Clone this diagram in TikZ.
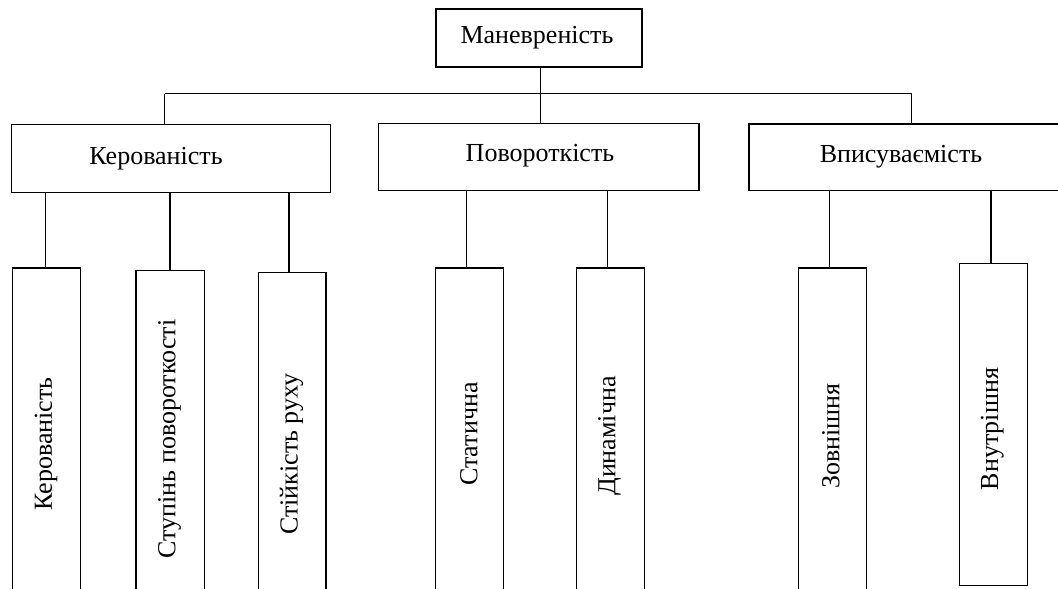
\documentclass[tikz,border=0pt]{standalone}
\usepackage{fontspec}
\setmainfont{Liberation Serif}
\begin{document}
\begin{tikzpicture}[x=0.75pt,y=-0.75pt,
  box/.style={draw, line width=0.9pt, inner sep=0pt, fill=none},
  htext/.style={inner sep=0pt, font=\fontsize{19.5}{23}\selectfont},
  vtext/.style={rotate=90, inner sep=0pt, font=\fontsize{19.5}{23}\selectfont},
  link/.style={line width=1pt}]
\clip (0,0) rectangle (1058,589);
% main boxes
\node[box, minimum width=206*0.75pt, minimum height=58*0.75pt] (top) at (539,38) {};
\node[box, minimum width=319*0.75pt, minimum height=68.4*0.75pt] (ker) at (171,158.5) {};
\node[box, minimum width=320.7*0.75pt, minimum height=67.4*0.75pt] (pov) at (538.7,157) {};
\node[box, minimum width=326*0.75pt, minimum height=66.7*0.75pt] (vps) at (912,157.35) {};
\node[htext] (topt) at (537,38) {Маневреність};
\node[htext] (kert) at (156,158.5) {Керованість};
\node[htext] (povt) at (540,155.5) {Повороткість};
\node[htext] (vpst) at (901,157) {Вписуваємість};
% child boxes
\node[box, minimum width=68.2*0.75pt, minimum height=352*0.75pt] (k1) at (46.5,444) {};
\node[box, minimum width=68.2*0.75pt, minimum height=349.3*0.75pt] (k2) at (170.1,445.35) {};
\node[box, minimum width=67.8*0.75pt, minimum height=347.3*0.75pt] (k3) at (292.1,446.35) {};
\node[box, minimum width=67.9*0.75pt, minimum height=352*0.75pt] (p1) at (469.45,444) {};
\node[box, minimum width=67.9*0.75pt, minimum height=352*0.75pt] (p2) at (610.25,444) {};
\node[box, minimum width=67.9*0.75pt, minimum height=352*0.75pt] (v1) at (832.25,444) {};
\node[box, minimum width=68*0.75pt, minimum height=322.4*0.75pt] (v2) at (993.3,424.5) {};
\node[vtext] (k1t) at (46,444) {Керованість};
\node[vtext] (k2t) at (169.5,439) {Ступінь повороткості};
\node[vtext] (k3t) at (291.5,454) {Стійкість руху};
\node[vtext] (p1t) at (469,434) {Статична};
\node[vtext] (p2t) at (609.5,436) {Динамічна};
\node[vtext] (v1t) at (831,436) {Зовнішня};
\node[vtext] (v2t) at (992.3,429) {Внутрішня};
% bus
\coordinate (busL) at (164.6,93.5);
\coordinate (busR) at (911.6,93.5);
\draw[link] (busL) -- (busR);
\draw[link] ([xshift=1.5*0.75pt]top.south) -- ([xshift=1.5*0.75pt]top.south |- busL);
\draw[link] (busL) -- (busL |- ker.north);
\draw[link] ([xshift=1.8*0.75pt]pov.north |- busL) -- ([xshift=1.8*0.75pt]pov.north);
\draw[link] (busR) -- (busR |- vps.north);
% children connectors
\draw[link] ([xshift=-1.3*0.75pt]k1.north) -- ([xshift=-1.3*0.75pt]k1.north |- ker.south);
\draw[link] (k2.north) -- (k2.north |- ker.south);
\draw[link] ([xshift=-3*0.75pt]k3.north) -- ([xshift=-3*0.75pt]k3.north |- ker.south);
\draw[link] ([xshift=-2.7*0.75pt]p1.north) -- ([xshift=-2.7*0.75pt]p1.north |- pov.south);
\draw[link] ([xshift=-2.7*0.75pt]p2.north) -- ([xshift=-2.7*0.75pt]p2.north |- pov.south);
\draw[link] ([xshift=-2.8*0.75pt]v1.north) -- ([xshift=-2.8*0.75pt]v1.north |- vps.south);
\draw[link] ([xshift=-2.2*0.75pt]v2.north) -- ([xshift=-2.2*0.75pt]v2.north |- vps.south);
\end{tikzpicture}
\end{document}
